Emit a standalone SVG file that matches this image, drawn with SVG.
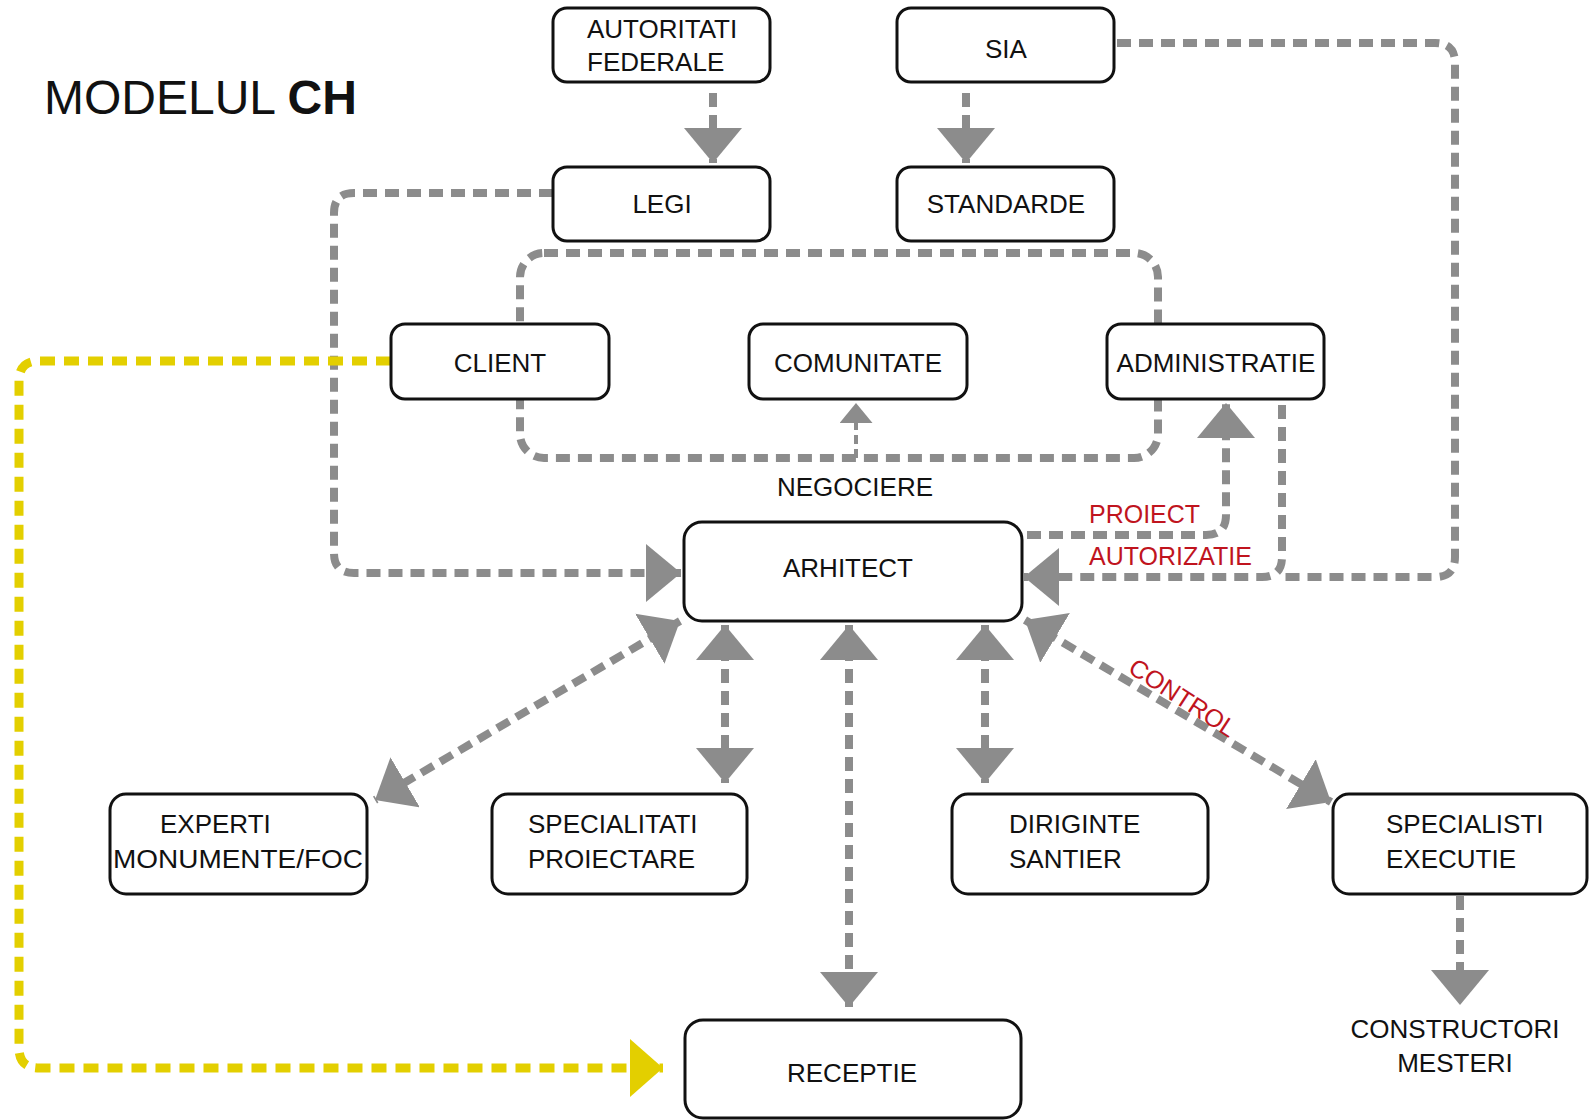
<svg xmlns="http://www.w3.org/2000/svg" width="1589" height="1120" viewBox="0 0 1589 1120">
<style>
.box{fill:#fff;stroke:#111;stroke-width:3}
.t{font-family:"Liberation Sans",Arial,sans-serif;font-size:26px;fill:#111}
.c{text-anchor:middle}
.red{fill:#c0141e;font-size:25px}
.g{fill:none;stroke:#8c8c8c;stroke-width:8;stroke-dasharray:14 8}
.gs{fill:none;stroke:#8c8c8c;stroke-width:4;stroke-dasharray:9 5}
.y{fill:none;stroke:#e3cf00;stroke-width:9;stroke-dasharray:15 9}
</style>
<defs>
<marker id="ah" viewBox="0 0 35 58" refX="35" refY="29" markerWidth="35" markerHeight="58" markerUnits="userSpaceOnUse" orient="auto-start-reverse"><path d="M0,0 L35,29 L0,58 Z" fill="#8c8c8c"/></marker>
<marker id="ahs" viewBox="0 0 20 33" refX="20" refY="16.5" markerWidth="20" markerHeight="33" markerUnits="userSpaceOnUse" orient="auto-start-reverse"><path d="M0,0 L20,16.5 L0,33 Z" fill="#8c8c8c"/></marker>
<marker id="ahy" viewBox="0 0 33 58" refX="33" refY="29" markerWidth="33" markerHeight="58" markerUnits="userSpaceOnUse" orient="auto-start-reverse"><path d="M0,0 L33,29 L0,58 Z" fill="#e3cf00"/></marker>
</defs>
<rect width="1589" height="1120" fill="#fff"/>
<text x="44" y="114" font-family="Liberation Sans,Arial,sans-serif" font-size="48" fill="#111">MODELUL <tspan font-weight="bold">CH</tspan></text>
<g id="connectors">
<path class="g" d="M713,93 V163" marker-end="url(#ah)"/>
<path class="g" d="M966,93 V163" marker-end="url(#ah)"/>
<path class="g" d="M1117,43 H1435 Q1455,43 1455,63 V557 Q1455,577 1435,577 H1282"/>
<path class="g" d="M1282,405 V557 Q1282,577 1262,577 H1024" marker-end="url(#ah)"/>
<path class="g" d="M1027,535 H1206 Q1226,535 1226,515 V403" marker-end="url(#ah)"/>
<path class="g" d="M553,193 H354 Q334,193 334,213 V553 Q334,573 354,573 H681" marker-end="url(#ah)"/>
<rect class="g" x="520" y="253" width="638" height="205" rx="24"/>
<path class="gs" d="M856,458 V403" marker-end="url(#ahs)"/>
<path class="y" d="M391,361 H39 Q19,361 19,381 V1048 Q19,1068 39,1068 H663" marker-end="url(#ahy)"/>
<path class="g" d="M680,621 L375,800" marker-start="url(#ah)" marker-end="url(#ah)"/>
<path class="g" d="M725,625 V783" marker-start="url(#ah)" marker-end="url(#ah)"/>
<path class="g" d="M849,625 V1007" marker-start="url(#ah)" marker-end="url(#ah)"/>
<path class="g" d="M985,625 V783" marker-start="url(#ah)" marker-end="url(#ah)"/>
<path class="g" d="M1025,620 L1331,802" marker-start="url(#ah)" marker-end="url(#ah)"/>
<path class="g" d="M1460,896 V1005" marker-end="url(#ah)"/>
<text class="t" x="855" y="496" text-anchor="middle">NEGOCIERE</text>
<text class="t red" x="1089" y="523">PROIECT</text>
<text class="t red" x="1089" y="565">AUTORIZATIE</text>
<text class="t red" x="0" y="0" text-anchor="middle" transform="translate(1178,705) rotate(33)">CONTROL</text>
</g>
<g id="autoritati"><rect class="box" x="553" y="8" width="217" height="74" rx="14"/><text class="t" x="587" y="38">AUTORITATI</text><text class="t" x="587" y="71">FEDERALE</text></g>
<g id="sia"><rect class="box" x="897" y="8" width="217" height="74" rx="14"/><text class="t c" x="1006" y="58">SIA</text></g>
<g id="legi"><rect class="box" x="553" y="167" width="217" height="74" rx="14"/><text class="t c" x="662" y="213">LEGI</text></g>
<g id="standarde"><rect class="box" x="897" y="167" width="217" height="74" rx="14"/><text class="t c" x="1006" y="213">STANDARDE</text></g>
<g id="client"><rect class="box" x="391" y="324" width="218" height="75" rx="14"/><text class="t c" x="500" y="372">CLIENT</text></g>
<g id="comunitate"><rect class="box" x="749" y="324" width="218" height="75" rx="14"/><text class="t c" x="858" y="372">COMUNITATE</text></g>
<g id="administratie"><rect class="box" x="1107" y="324" width="217" height="75" rx="14"/><text class="t c" x="1216" y="372">ADMINISTRATIE</text></g>
<g id="arhitect"><rect class="box" x="684" y="522" width="338" height="99" rx="18"/><text class="t c" x="848" y="577">ARHITECT</text></g>
<g id="experti"><rect class="box" x="110" y="794" width="257" height="100" rx="16"/><text class="t" x="160" y="833">EXPERTI</text><text class="t" x="113" y="868" textLength="250" lengthAdjust="spacingAndGlyphs">MONUMENTE/FOC</text></g>
<g id="specialitati"><rect class="box" x="492" y="794" width="255" height="100" rx="16"/><text class="t" x="528" y="833">SPECIALITATI</text><text class="t" x="528" y="868">PROIECTARE</text></g>
<g id="diriginte"><rect class="box" x="952" y="794" width="256" height="100" rx="16"/><text class="t" x="1009" y="833">DIRIGINTE</text><text class="t" x="1009" y="868">SANTIER</text></g>
<g id="specialisti"><rect class="box" x="1333" y="794" width="254" height="100" rx="16"/><text class="t" x="1386" y="833">SPECIALISTI</text><text class="t" x="1386" y="868">EXECUTIE</text></g>
<g id="receptie"><rect class="box" x="685" y="1020" width="336" height="98" rx="18"/><text class="t c" x="852" y="1082">RECEPTIE</text></g>
<g id="constructori"><text class="t c" x="1455" y="1038">CONSTRUCTORI</text><text class="t c" x="1455" y="1072">MESTERI</text></g>
</svg>
